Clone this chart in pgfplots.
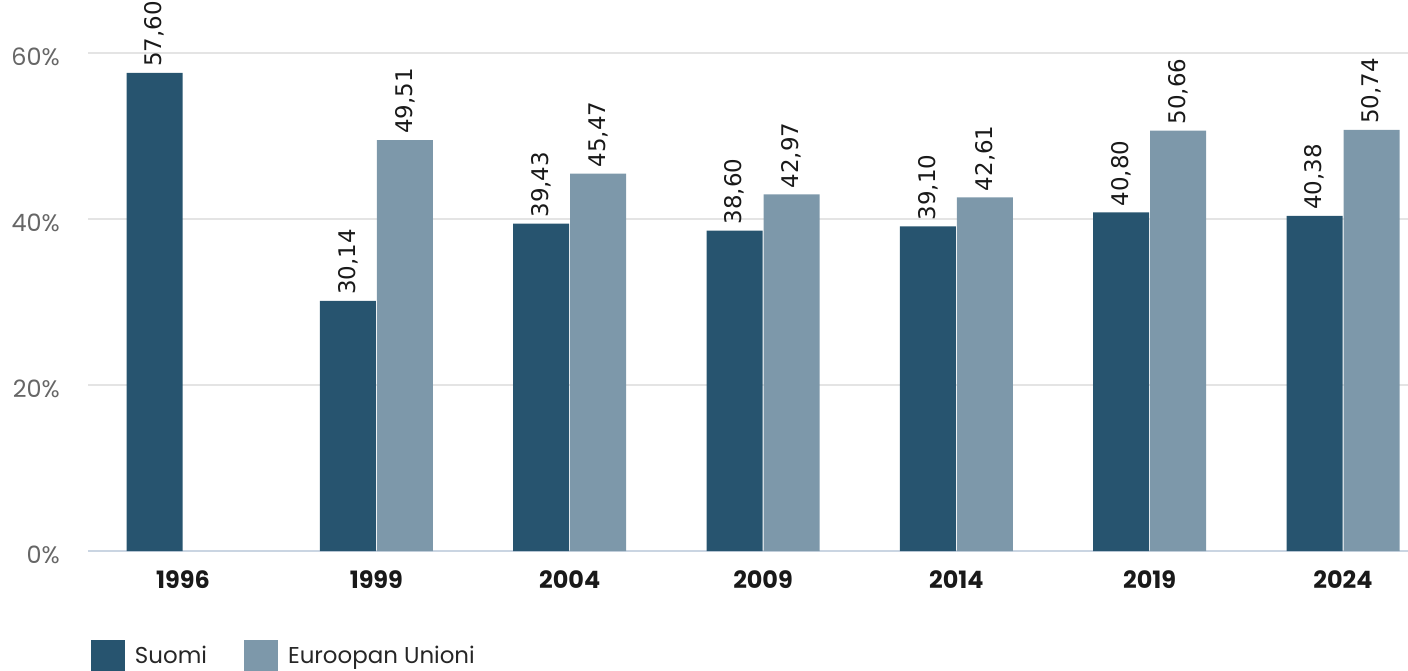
\documentclass[border=0pt]{standalone}
\usepackage{pgfplots}
\pgfplotsset{compat=1.18}
\usepackage{fontspec}
\setmainfont{Poppins}
\newfontfamily\dejavu{DejaVu Sans}
\definecolor{suomi}{RGB}{39,84,111}
\definecolor{eu}{RGB}{125,152,170}
\definecolor{gridc}{RGB}{228,228,228}
\definecolor{basec}{RGB}{202,213,226}
\definecolor{ticktext}{RGB}{102,102,102}
\begin{document}
\begin{tikzpicture}
\begin{axis}[
  scale only axis, width=1320bp, height=498bp,
  xmin=-0.4914, xmax=6.336, ymin=0, ymax=60,
  ybar, bar width=56bp,
  axis line style={draw=none},
  major tick length=0pt,
  ytick={20,40,60},
  extra y ticks={0},
  extra y tick style={grid style={basec, line width=2bp}},
  ymajorgrids,
  grid style={gridc, line width=1.5bp},
  yticklabel={\pgfmathprintnumber[assume math mode=true]{\tick}\%},
  yticklabel style={font=\fontsize{24}{24}\selectfont, text=ticktext, inner sep=0pt, anchor=east, xshift=-28bp, yshift=-4bp},
  xtick={0,1,2,3,4,5,6},
  xticklabels={1996,1999,2004,2009,2014,2019,2024},
  xticklabel style={font=\fontsize{24}{24}\selectfont\bfseries, text=black!90, inner sep=0pt, anchor=north, yshift=-19bp},
  nodes near coords={\pgfmathprintnumber[fixed,fixed zerofill,precision=2,use comma,assume math mode=true]{\pgfplotspointmeta}},
  every node near coord/.append style={font=\dejavu\fontsize{23}{23}\selectfont, text=black!90, rotate=90, anchor=west, inner xsep=6bp, inner ysep=0pt},
  legend image code/.code={\fill[#1] (0bp,-18.5bp) rectangle (34bp,15.5bp);},
  legend style={draw=none, fill=none, inner sep=0pt, outer sep=0pt,
    at={(rel axis cs:0.00227,-0.1787)}, anchor=north west,
    legend columns=2, font=\fontsize{23}{23}\selectfont,
    nodes={inner sep=0pt, text=black!85},
    /tikz/every odd column/.append style={column sep=10bp},
    /tikz/every even column/.append style={column sep=37bp}},
  legend cell align=left,
]
\addplot[fill=suomi, draw=none, bar shift=-28.5bp] coordinates {
  (0,57.60) (1,30.14) (2,39.43) (3,38.60) (4,39.10) (5,40.80) (6,40.38)};
\addlegendentry{Suomi}
\addplot[fill=eu, draw=none, bar shift=28.5bp] coordinates {
  (1,49.51) (2,45.47) (3,42.97) (4,42.61) (5,50.66) (6,50.74)};
\addlegendentry{Euroopan Unioni}
\end{axis}
\pgfresetboundingbox
\path[use as bounding box] (-88bp,-120bp) rectangle (1320bp,551bp);
\end{tikzpicture}
\end{document}
